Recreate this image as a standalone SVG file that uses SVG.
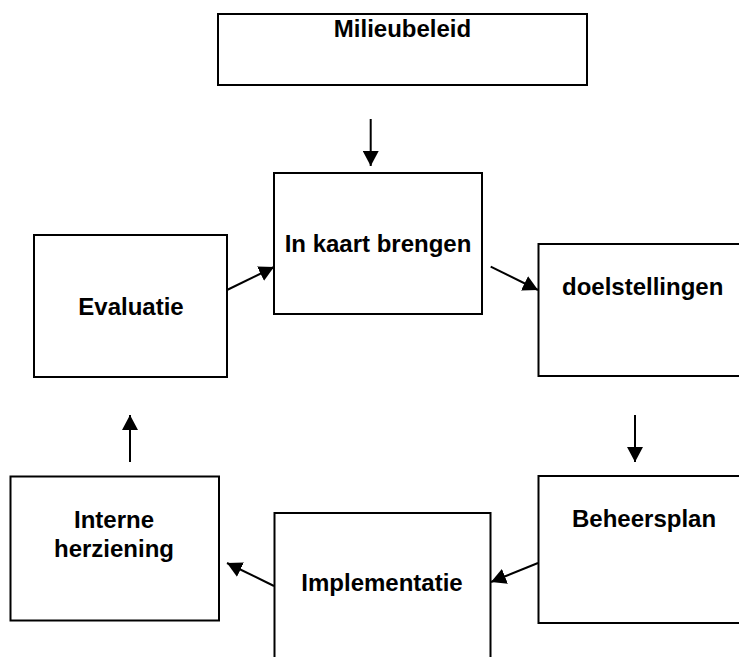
<svg xmlns="http://www.w3.org/2000/svg" width="739" height="657" viewBox="0 0 739 657">
<style>
.box{fill:#fff;stroke:#000;stroke-width:2}
.lbl{font-family:"Liberation Sans",Arial,sans-serif;font-weight:bold;font-size:24px;fill:#000;text-anchor:middle}
.st{text-anchor:start}
.con{stroke:#000;stroke-width:2;fill:none;marker-end:url(#ah)}
</style>
<defs>
<marker id="ah" markerUnits="userSpaceOnUse" markerWidth="16" markerHeight="16" refX="15" refY="8" orient="auto" viewBox="0 0 16 16">
<path d="M0,0 L15,8 L0,16 z" fill="#000"/>
</marker>
</defs>
<rect width="739" height="657" fill="#fff"/>
<g id="milieubeleid"><rect class="box" x="218" y="14" width="369" height="71"/><text class="lbl" x="402.5" y="37">Milieubeleid</text></g>
<g id="inkaart"><rect class="box" x="274" y="173" width="208" height="141"/><text class="lbl" x="378" y="252">In kaart brengen</text></g>
<g id="evaluatie"><rect class="box" x="34" y="235" width="193" height="142"/><text class="lbl" x="131" y="315">Evaluatie</text></g>
<g id="doelstellingen"><rect class="box" x="538.5" y="244" width="215" height="132"/><text class="lbl st" x="562" y="295">doelstellingen</text></g>
<g id="beheersplan"><rect class="box" x="538.5" y="476" width="215" height="147"/><text class="lbl st" x="572" y="527">Beheersplan</text></g>
<g id="implementatie"><rect class="box" x="274.5" y="513" width="216" height="160"/><text class="lbl" x="382" y="591">Implementatie</text></g>
<g id="interne"><rect class="box" x="10.5" y="476.5" width="208.5" height="144"/><text class="lbl" x="114" y="528">Interne</text><text class="lbl" x="114" y="557">herziening</text></g>
<g id="connectors">
<line class="con" x1="370.7" y1="119" x2="370.7" y2="166"/>
<line class="con" x1="227" y1="290" x2="274" y2="267"/>
<line class="con" x1="490.7" y1="266.7" x2="538" y2="290"/>
<line class="con" x1="635" y1="415" x2="635" y2="462"/>
<line class="con" x1="538" y1="563" x2="491" y2="582"/>
<line class="con" x1="274" y1="586" x2="227" y2="563"/>
<line class="con" x1="130" y1="462" x2="130" y2="415"/>
</g>
</svg>
